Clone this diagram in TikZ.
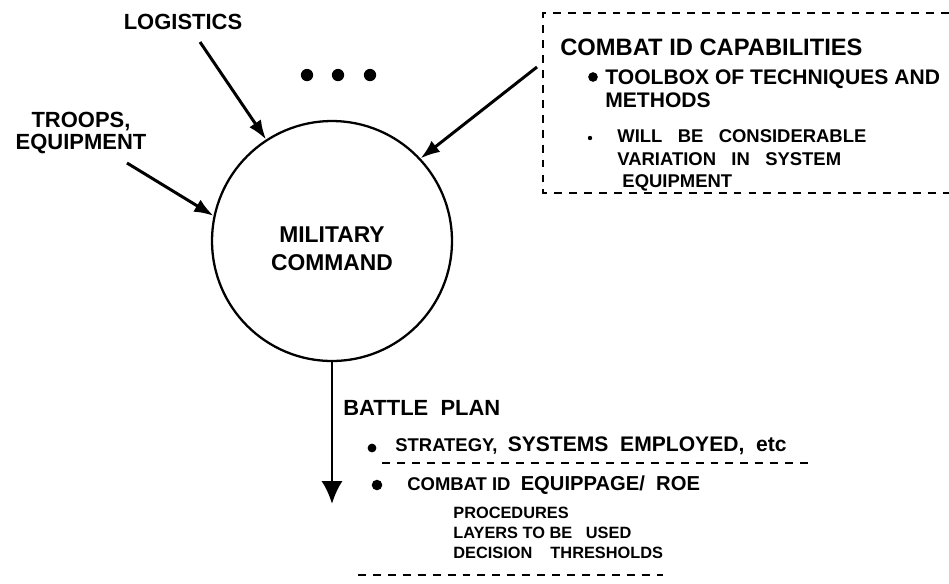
\documentclass[tikz,border=0pt]{standalone}
\usepackage{fontspec}
\setmainfont{Liberation Sans}
\usetikzlibrary{arrows.meta}

\tikzset{
  lbl/.style={inner sep=0pt, font=\bfseries\fontsize{12.5}{12.5}\selectfont, align=center},
  item/.style={inner sep=0pt, anchor=west, align=left},
  feed/.style={line width=1.7pt, -{Latex[length=11pt,width=8pt]}},
  cut/.style={line width=1.1pt, dash pattern=on 4.5pt off 4pt},
  dot/.style={circle, fill, inner sep=0pt, minimum size=#1},
}

\begin{document}
\begin{tikzpicture}[x=0.02cm,y=-0.02cm]
\useasboundingbox (0,0) rectangle (949,583);
% Command circle
\node[draw, circle, line width=1.3pt, minimum size=4.8cm, inner sep=0pt] (cmd) at (332,241) {};
\node[lbl, font=\bfseries\fontsize{13}{16}\selectfont] (cmdtxt) at (332,249) {MILITARY\\COMMAND};
%
% Inputs
\node[lbl] (logistics) at (183,22) {LOGISTICS};
\node[lbl] (troops) at (81,133) {TROOPS,\\EQUIPMENT};
\node[dot=7pt] (d1) at (307,75) {};
\node[dot=7pt] (d2) at (338,75) {};
\node[dot=7pt] (d3) at (370,75) {};
\coordinate (logsrc) at (200,42);
\coordinate (trpsrc) at (127,163);
\coordinate (capsrc) at (537,67);
 \draw[feed] (logsrc) -- (cmd.123);
 \draw[feed] (trpsrc) -- (cmd.168);
 \draw[feed] (capsrc) -- (cmd.43);
%
% Combat ID capabilities box (open at the right)
\draw[cut] (949,13) -- (543,13) -- (543,193) -- (949,193);
\node[item, font=\bfseries\fontsize{13.5}{16}\selectfont] (capbox) at (560,47) {COMBAT ID CAPABILITIES};
\node[dot=5.5pt] (b1) at (593,77) {};
\node[item, font=\bfseries\fontsize{12}{13}\selectfont] (toolbox) at (605,88.5) {TOOLBOX OF TECHNIQUES AND\\METHODS};
\node[dot=2.5pt] (b2) at (590,138) {};
\node[item, font=\bfseries\fontsize{10.5}{12.8}\selectfont] (variation) at (617,160.5)
  {WILL\ \ \ BE\ \ \ CONSIDERABLE\\VARIATION\ \ \ IN\ \ \ SYSTEM\\\ EQUIPMENT};
%
% Battle plan output
\coordinate (planend) at (cmd.south |- 0,504);
 \draw[line width=1.7pt, -{Latex[length=13pt,width=12pt]}] (cmd.south) -- (planend);
\node[item, font=\bfseries\fontsize{12.5}{15}\selectfont] (plan) at (343,408) {BATTLE\ \ PLAN};
\node[dot=5pt] (b3) at (372,448) {};
\node[item] (strategy) at (395,446)
  {\bfseries\fontsize{10.5}{12}\selectfont STRATEGY,\ \ \fontsize{12}{14}\selectfont SYSTEMS\ \ EMPLOYED,\ \ etc};
\draw[cut] (382,463) -- (810,463);
\node[dot=6pt] (b4) at (377,485) {};
\node[item] (equippage) at (407,485)
  {\bfseries\fontsize{10.5}{12}\selectfont COMBAT ID\ \ \fontsize{11.5}{14}\selectfont EQUIPPAGE/\ \ ROE};
\node[item, font=\bfseries\fontsize{9.3}{11.4}\selectfont] (details) at (453,533)
  {PROCEDURES\\LAYERS TO BE\ \ \ USED\\DECISION\ \ \ \ THRESHOLDS};
\draw[cut] (358,575) -- (663,575);
\end{tikzpicture}
\end{document}
